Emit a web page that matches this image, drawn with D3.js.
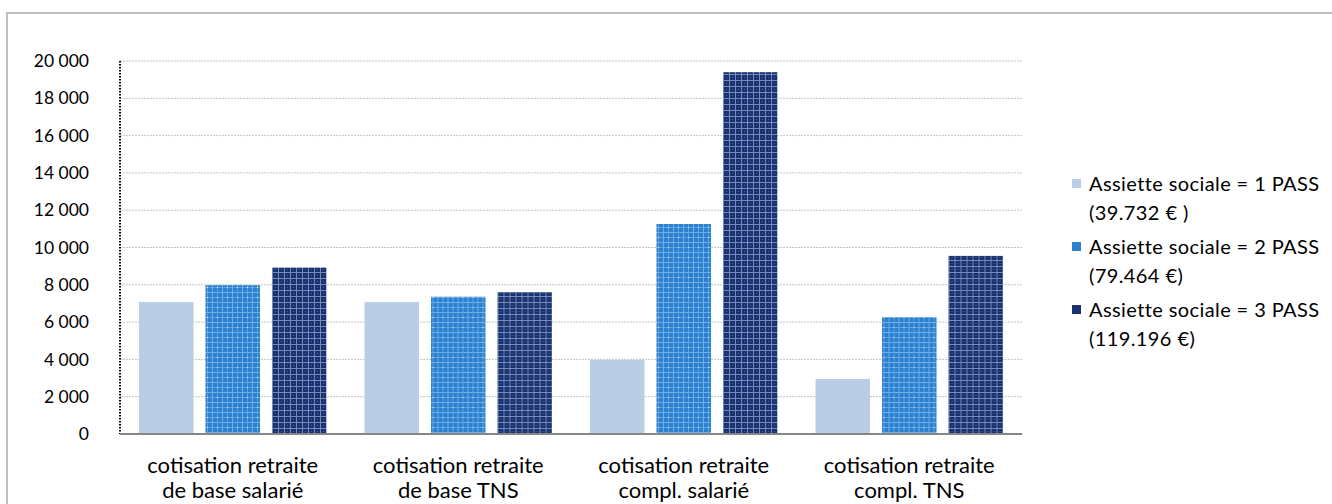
<!DOCTYPE html>
<html>
<head>
<meta charset="utf-8">
<script src="https://cdn.jsdelivr.net/npm/d3@7"></script>
<style>
  html, body { margin: 0; padding: 0; background: #fff; }
  svg { display: block; }
  text { font-family: Lato, "Open Sans", sans-serif; fill: #000; }
</style>
</head>
<body>
<svg id="chart" width="1332" height="504"></svg>
<script>
// Categories (two-line labels) and series
const categories = [
  ["cotisation retraite", "de base salarié"],
  ["cotisation retraite", "de base TNS"],
  ["cotisation retraite", "compl. salarié"],
  ["cotisation retraite", "compl. TNS"]
];
const seriesNames = [
  ["Assiette sociale = 1 PASS", "(39.732 € )"],
  ["Assiette sociale = 2 PASS", "(79.464 €)"],
  ["Assiette sociale = 3 PASS", "(119.196 €)"]
];
const pass1 = [7080, 7080, 3980, 2950];
const pass2 = [7980, 7360, 11260, 6270];
const pass3 = [8920, 7600, 19400, 9550];
const yTicks = [0, 2000, 4000, 6000, 8000, 10000, 12000, 14000, 16000, 18000, 20000];

const series = [pass1, pass2, pass3];

const svg = d3.select("#chart");

// Outer frame
svg.append("rect")
  .attr("x", 7).attr("y", 13).attr("width", 1340).attr("height", 520)
  .attr("fill", "none").attr("stroke", "#c0c0c0").attr("stroke-width", 2);

// Fill patterns for the 2 and 3 PASS series
const defs = svg.append("defs");
const p2 = defs.append("pattern").attr("id", "pat2")
  .attr("patternUnits", "userSpaceOnUse").attr("width", 10).attr("height", 10);
p2.append("rect").attr("width", 10).attr("height", 10).attr("fill", "#2b80cf");
p2.append("rect").attr("x", 0).attr("y", 2).attr("width", 10).attr("height", 1).attr("fill", "#6fb0e6");
p2.append("rect").attr("x", 0).attr("y", 7).attr("width", 10).attr("height", 1).attr("fill", "#5ea3df");
p2.append("rect").attr("x", 2).attr("y", 0).attr("width", 1).attr("height", 10).attr("fill", "#6fb0e6");
p2.append("rect").attr("x", 7).attr("y", 0).attr("width", 1).attr("height", 10).attr("fill", "#5ea3df");
p2.append("rect").attr("x", 7).attr("y", 7).attr("width", 1).attr("height", 1).attr("fill", "#d8ebfa");

const p3 = defs.append("pattern").attr("id", "pat3")
  .attr("patternUnits", "userSpaceOnUse").attr("width", 6).attr("height", 6);
p3.append("rect").attr("width", 6).attr("height", 6).attr("fill", "#18326f");
p3.append("rect").attr("x", 0).attr("y", 2).attr("width", 6).attr("height", 1).attr("fill", "#7689b8");
p3.append("rect").attr("x", 2).attr("y", 0).attr("width", 1).attr("height", 6).attr("fill", "#7689b8");
p3.append("rect").attr("x", 5).attr("y", 5).attr("width", 1).attr("height", 1).attr("fill", "#4a63a0");

const fills = ["#b9cde5", "url(#pat2)", "url(#pat3)"];

const plot = { left: 120, right: 1022, top: 61, bottom: 434 };

const x0 = d3.scaleBand()
  .domain(d3.range(categories.length))
  .range([plot.left, plot.right])
  .paddingInner(0).paddingOuter(0);

const x1 = d3.scaleBand()
  .domain(d3.range(series.length))
  .range([19, x0.bandwidth() - 19])
  .paddingInner(0.18).paddingOuter(0);

const y = d3.scaleLinear().domain([0, 20000]).range([plot.bottom, plot.top]);

// Horizontal gridlines
svg.append("g").selectAll("line")
  .data(yTicks.filter(d => d > 0))
  .join("line")
  .attr("x1", plot.left).attr("x2", plot.right)
  .attr("y1", d => y(d)).attr("y2", d => y(d))
  .attr("stroke", "#c4c4c4").attr("stroke-width", 1)
  .attr("stroke-dasharray", "2,1");

// Y axis labels
const fmt = d => d3.format(",")(d).replace(/,/g, " ");
const yAxis = d3.axisLeft(y).tickValues(yTicks).tickFormat(fmt).tickSize(0).tickPadding(31);
const gy = svg.append("g").attr("transform", `translate(${plot.left},0)`).call(yAxis);
gy.select(".domain").remove();
gy.selectAll("text").attr("font-size", 17.5).attr("font-family", "Lato, 'Open Sans', sans-serif").attr("fill", "#000");

// Bars
const groups = svg.append("g").selectAll("g")
  .data(categories.map((c, i) => i))
  .join("g")
  .attr("transform", i => `translate(${x0(i)},0)`);

groups.selectAll("rect")
  .data(i => series.map((s, k) => ({ k, v: s[i] })))
  .join("rect")
  .attr("x", d => x1(d.k))
  .attr("width", x1.bandwidth())
  .attr("y", d => y(d.v))
  .attr("height", d => y(0) - y(d.v))
  .attr("fill", d => fills[d.k]);

// Y axis line (dotted)
svg.append("line")
  .attr("x1", plot.left).attr("x2", plot.left)
  .attr("y1", plot.top).attr("y2", plot.bottom)
  .attr("stroke", "#000").attr("stroke-width", 2)
  .attr("stroke-dasharray", "1.5,1.5");

// X axis line
svg.append("line")
  .attr("x1", plot.left).attr("x2", plot.right)
  .attr("y1", plot.bottom).attr("y2", plot.bottom)
  .attr("stroke", "#868686").attr("stroke-width", 2);

// Category labels
const xl = svg.append("g").selectAll("text")
  .data(categories)
  .join("text")
  .attr("text-anchor", "middle")
  .attr("font-size", 22)
  .attr("x", (d, i) => x0(i) + x0.bandwidth() / 2);
xl.append("tspan").attr("y", 473).text(d => d[0]);
xl.append("tspan").attr("y", 498).attr("x", (d, i) => x0(i) + x0.bandwidth() / 2).text(d => d[1]);

// Legend
const legendY = [191, 254, 317];
const lg = svg.append("g").selectAll("g")
  .data(seriesNames)
  .join("g")
  .attr("transform", (d, i) => `translate(1072,${legendY[i]})`);
lg.append("rect")
  .attr("x", 0).attr("y", -12).attr("width", 9).attr("height", 9)
  .attr("fill", (d, i) => ["#b9cde5", "#2b80cf", "#18326f"][i]);
lg.append("text").attr("x", 17).attr("y", 0).attr("font-size", 20).attr("letter-spacing", 0.4).text(d => d[0]);
lg.append("text").attr("x", 17).attr("y", 29).attr("font-size", 20).attr("letter-spacing", 0.4).text(d => d[1]);
</script>
</body>
</html>
